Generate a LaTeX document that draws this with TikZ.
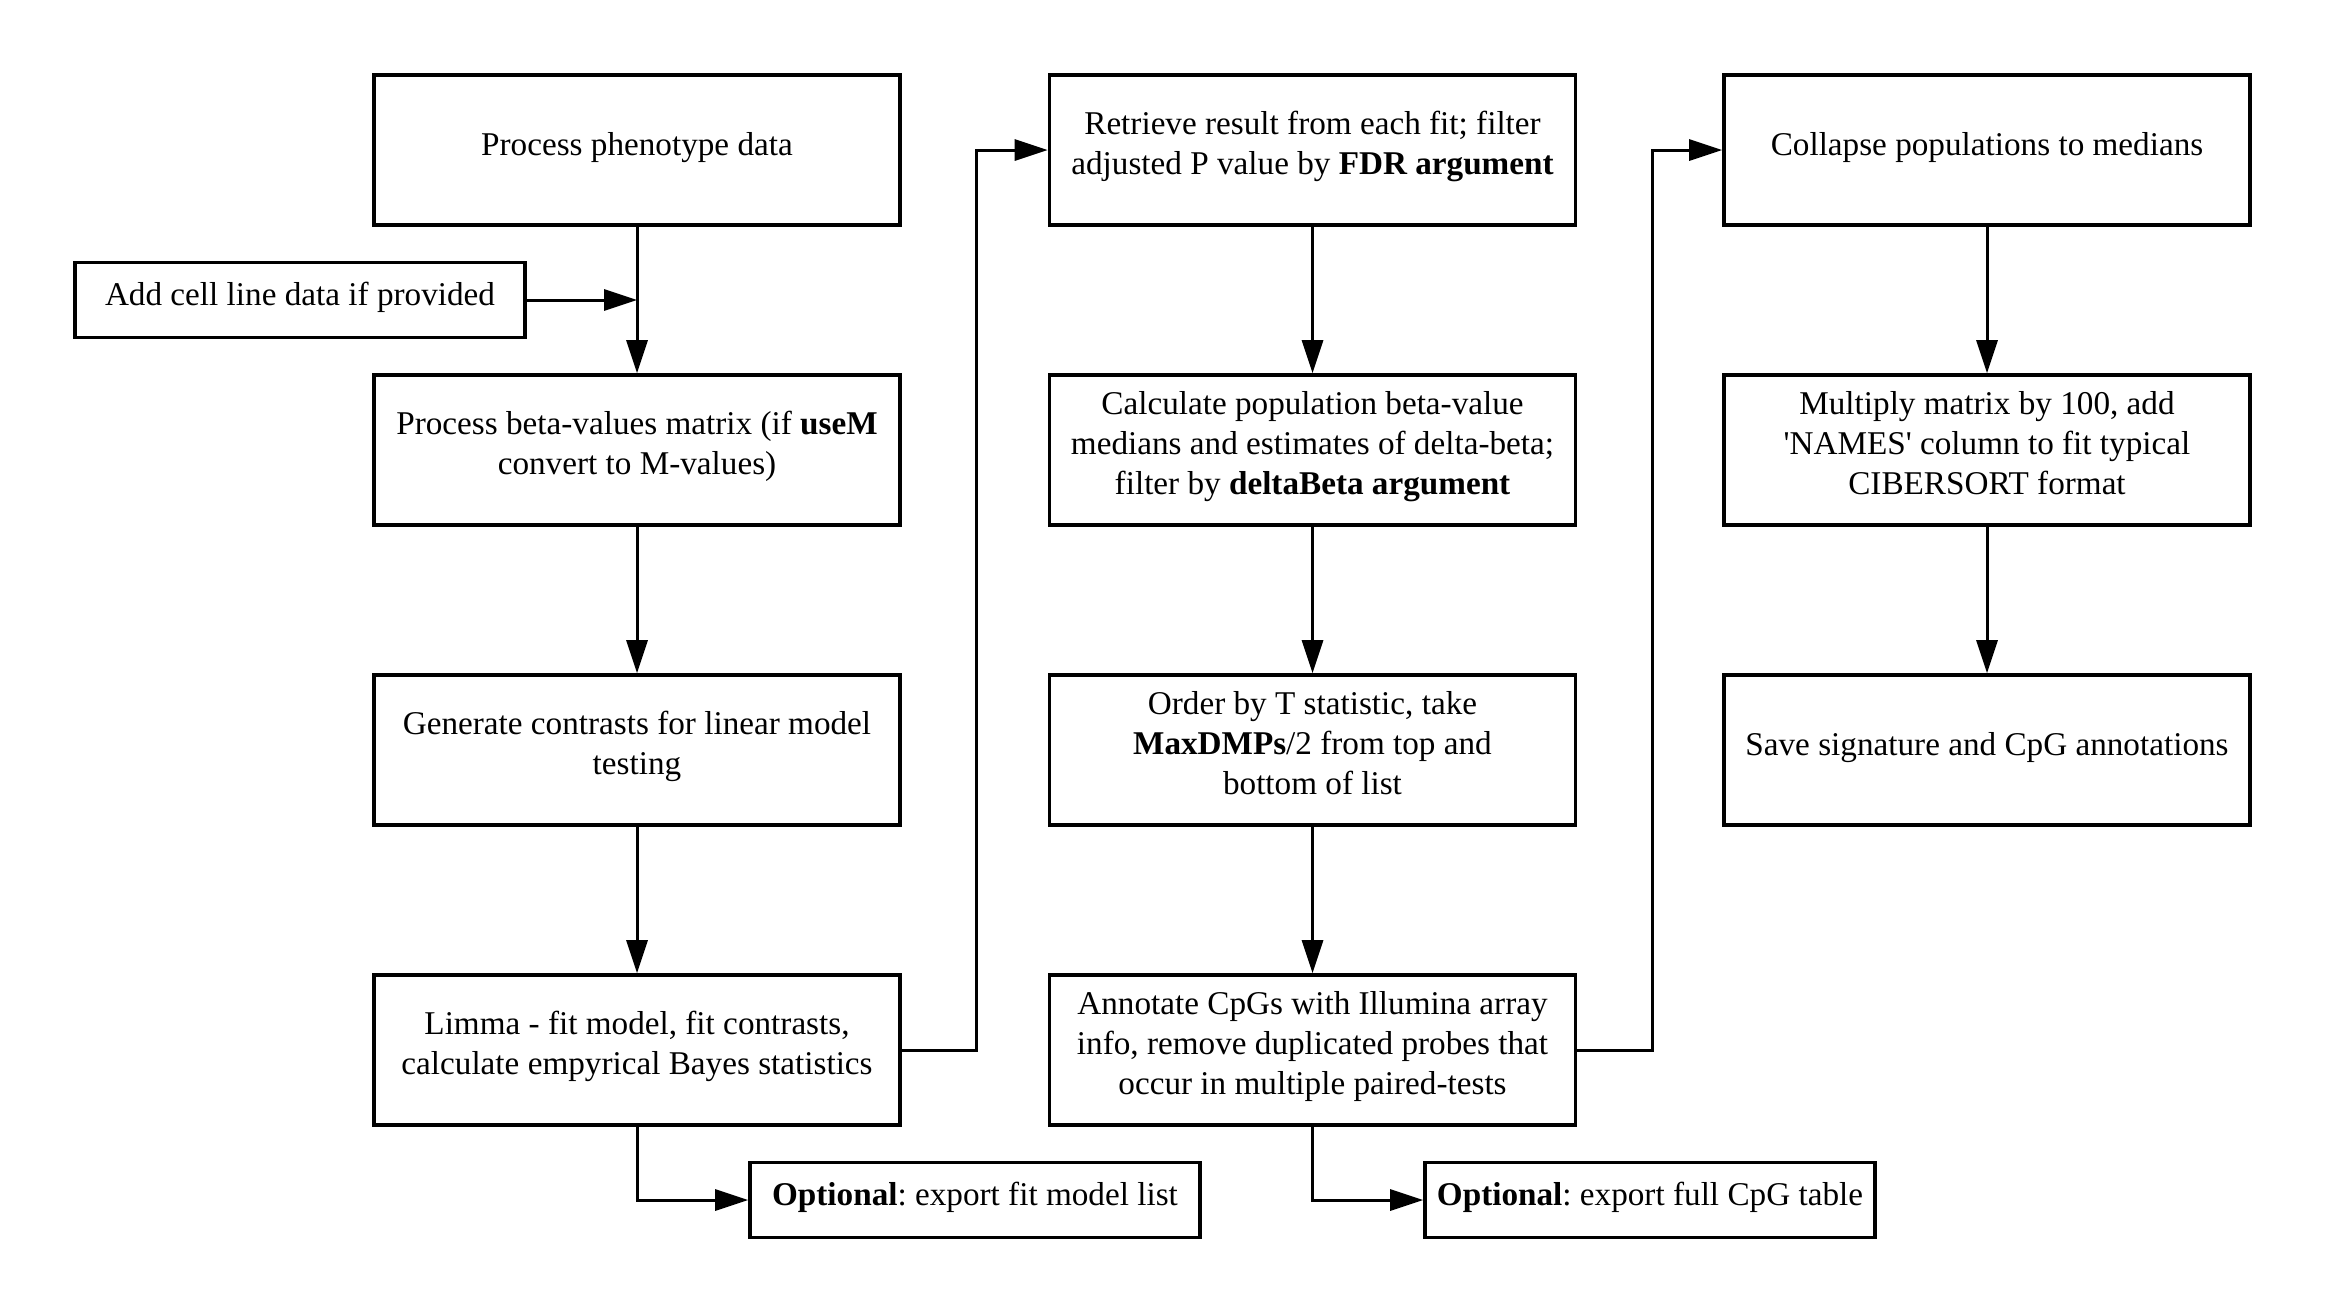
\documentclass[tikz,border=0pt]{standalone}
\usepackage{fontspec}
\setmainfont{Liberation Serif}
\usetikzlibrary{arrows.meta}
\frenchspacing
\newcommand{\boxstrut}{\vrule height 12.7pt depth 7.3pt width 0pt\relax}
\tikzset{
  boxfont/.style={font=\frenchspacing\fontsize{16.6pt}{20pt}\selectfont,
    execute at begin node=\boxstrut, execute at end node=\boxstrut},
  stepbox/.style={draw=black, line width=1.8pt, rectangle, minimum width=263pt, minimum height=75pt, align=center, inner sep=0pt, boxfont},
  smallbox/.style={draw=black, line width=1.8pt, rectangle, minimum width=225pt, minimum height=37.5pt, align=center, inner sep=0pt, boxfont},
  conn/.style={draw=black, line width=1.5pt, -{Triangle[length=16.5pt,width=10.5pt]}}
}
\begin{document}
\begin{tikzpicture}[x=0.5pt,y=-0.5pt]
\useasboundingbox (0,0) rectangle (2325,1313);
% column 1
\node[stepbox] (pheno) at (637,150) {Process phenotype data};
\node[smallbox] (cell) at (300,300) {Add cell line data if provided};
\node[stepbox] (beta) at (637,450) {Process beta-values matrix (if \textbf{useM}\\convert to M-values)};
\node[stepbox] (contr) at (637,750) {Generate contrasts for linear model\\testing};
\node[stepbox] (limma) at (637,1050) {Limma - fit model, fit contrasts,\\calculate empyrical Bayes statistics};
\node[smallbox] (opt1) at (975,1200) {\textbf{Optional}: export fit model list};
% column 2
\node[stepbox] (retr) at (1312.5,150) {Retrieve result from each fit; filter\\adjusted P value by \textbf{FDR argument}};
\node[stepbox] (calc) at (1312.5,450) {Calculate population beta-value\\medians and estimates of delta-beta;\\filter by \textbf{deltaBeta argument}};
\node[stepbox] (order) at (1312.5,750) {Order by T statistic, take\\\textbf{MaxDMPs}/2 from top and\\bottom of list};
\node[stepbox] (annot) at (1312.5,1050) {Annotate CpGs with Illumina array\\info, remove duplicated probes that\\occur in multiple paired-tests};
\node[smallbox] (opt2) at (1650,1200) {\textbf{Optional}: export full CpG table};
% column 3
\node[stepbox] (coll) at (1987,150) {Collapse populations to medians};
\node[stepbox] (mult) at (1987,450) {Multiply matrix by 100, add\\\textquotesingle NAMES\textquotesingle{} column to fit typical\\CIBERSORT format};
\node[stepbox] (save) at (1987,750) {Save signature and CpG annotations};
% connectors
\coordinate (join) at (637,300);
\draw[conn] (pheno) -- (beta);
\draw[conn] (cell.east) -- (join);
\draw[conn] (beta) -- (contr);
\draw[conn] (contr) -- (limma);
\draw[conn] (limma.south) |- (opt1.west);
\draw[conn] (limma.east) -- ++(75,0) |- (retr.west);
\draw[conn] (retr) -- (calc);
\draw[conn] (calc) -- (order);
\draw[conn] (order) -- (annot);
\draw[conn] (annot.south) |- (opt2.west);
\draw[conn] (annot.east) -- ++(75,0) |- (coll.west);
\draw[conn] (coll) -- (mult);
\draw[conn] (mult) -- (save);
\end{tikzpicture}
\end{document}
